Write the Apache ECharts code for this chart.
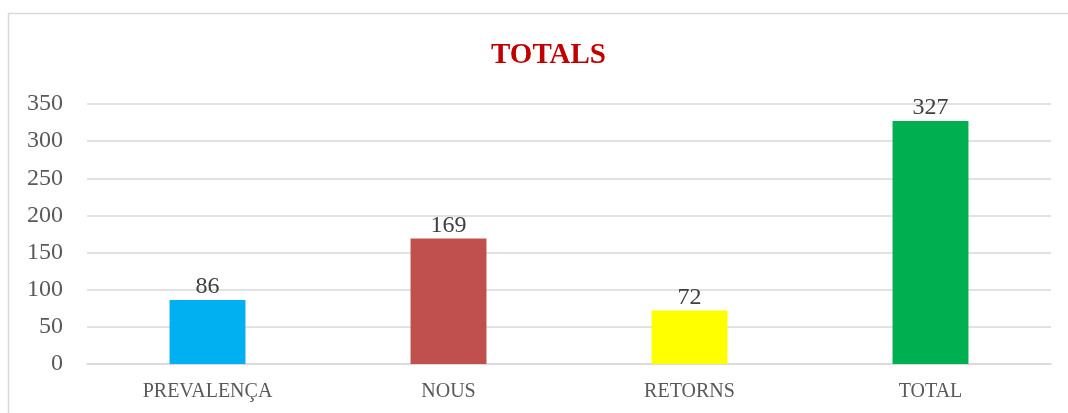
<!DOCTYPE html>
<html>
<head>
<meta charset="utf-8">
<script src="https://cdn.jsdelivr.net/npm/echarts@6/dist/echarts.min.js"></script>
<style>
  html, body { margin: 0; padding: 0; background: #fff; }
  #main { width: 1068px; height: 413px; }
</style>
</head>
<body>
<div id="main"></div>
<script>
// categories and values
var categories = ['PREVALENÇA', 'NOUS', 'RETORNS', 'TOTAL'];
var values = [86, 169, 72, 327];
var barColors = ['#00B0F0', '#C0504D', '#FFFF00', '#00B050'];
var yTicks = [0, 50, 100, 150, 200, 250, 300, 350];

var font = 'Liberation Serif';

var myChart = echarts.init(document.getElementById('main'));

var barData = [];
for (var i = 0; i < values.length; i++) {
	barData.push({ value: values[i], itemStyle: { color: barColors[i] } });
}

var option = {
	animation: false,
	backgroundColor: '#fff',
	graphic: [{
		type: 'rect',
		shape: { x: 8.5, y: 13.5, width: 1080, height: 420 },
		style: { fill: 'none', stroke: '#d9d9d9', lineWidth: 1.5 },
		silent: true
	}],
	title: {
		text: 'TOTALS',
		left: 486,
		top: 36,
		textStyle: { fontFamily: font, fontWeight: 'bold', fontSize: 29, color: '#C00000' }
	},
	grid: { left: 87, right: 17, top: 104, bottom: 49, containLabel: false },
	xAxis: {
		type: 'category',
		data: categories,
		axisLine: { show: true, lineStyle: { color: '#d9d9d9', width: 1.5 } },
		axisTick: { show: false },
		axisLabel: { fontFamily: font, fontSize: 20, color: '#595959', margin: 18 }
	},
	yAxis: {
		type: 'value',
		min: yTicks[0],
		max: yTicks[yTicks.length - 1],
		interval: 50,
		axisLine: { show: false },
		axisTick: { show: false },
		axisLabel: { fontFamily: font, fontSize: 24, color: '#595959', margin: 24 },
		splitLine: { lineStyle: { color: '#d9d9d9', width: 1.5 } }
	},
	series: [{
		type: 'bar',
		data: barData,
		barWidth: '31.5%',
		label: {
			show: true,
			position: 'top',
			distance: 1,
			fontFamily: font,
			fontSize: 24,
			color: '#404040'
		}
	}]
};

myChart.setOption(option);
</script>
</body>
</html>
